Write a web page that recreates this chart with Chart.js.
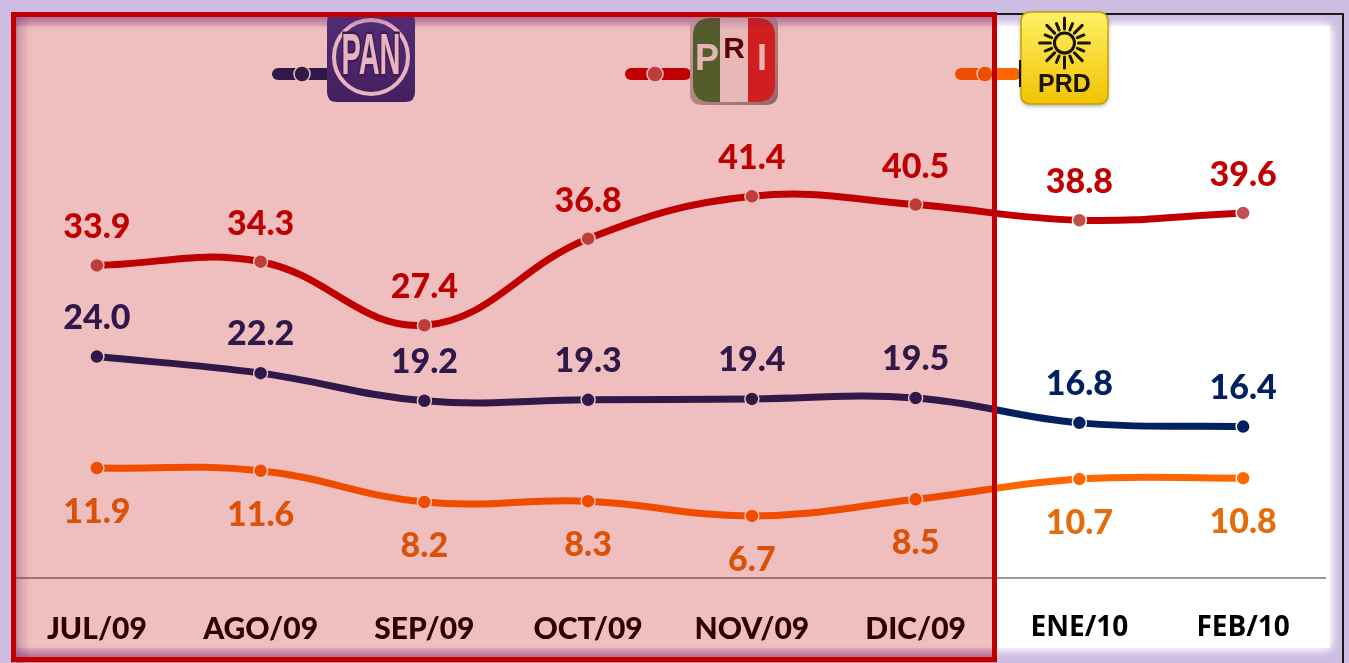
<!DOCTYPE html>
<html><head><meta charset="utf-8">
<script src="https://cdn.jsdelivr.net/npm/chart.js@4.4.1/dist/chart.umd.min.js"></script>
<style>html,body{margin:0;padding:0;background:#fff;overflow:hidden}canvas{display:block}</style>
</head><body><canvas id="c" width="1349" height="663"></canvas>
<script>
const categories = ['JUL/09','AGO/09','SEP/09','OCT/09','NOV/09','DIC/09','ENE/10','FEB/10'];
const panValues = [24.0,22.2,19.2,19.3,19.4,19.5,16.8,16.4];
const priValues = [33.9,34.3,27.4,36.8,41.4,40.5,38.8,39.6];
const prdValues = [11.9,11.6,8.2,8.3,6.7,8.5,10.7,10.8];
const seriesNames = ['PAN','PRI','PRD'];

function rr(ctx,x,y,w,h,r){ctx.beginPath();ctx.moveTo(x+r,y);ctx.lineTo(x+w-r,y);ctx.quadraticCurveTo(x+w,y,x+w,y+r);ctx.lineTo(x+w,y+h-r);ctx.quadraticCurveTo(x+w,y+h,x+w-r,y+h);ctx.lineTo(x+r,y+h);ctx.quadraticCurveTo(x,y+h,x,y+h-r);ctx.lineTo(x,y+r);ctx.quadraticCurveTo(x,y,x+r,y);ctx.closePath();}

function drawPAN(ctx,x,y,w,h){
  ctx.save();
  const g=ctx.createLinearGradient(x,y,x,y+h);g.addColorStop(0,'#2c3fa0');g.addColorStop(1,'#1c2a80');
  rr(ctx,x,y,w,h,10);ctx.fillStyle=g;ctx.fill();
  const cx=x+w/2, cy=y+h/2;
  ctx.beginPath();ctx.arc(cx,cy,37,0,Math.PI*2);ctx.strokeStyle='#f4f0ff';ctx.lineWidth=4;ctx.stroke();
  ctx.translate(cx,cy+1);ctx.scale(0.5,1);
  ctx.font='bold 58px "Liberation Sans"';ctx.textAlign='center';ctx.textBaseline='middle';
  ctx.lineWidth=5;ctx.strokeStyle='#1a2470';ctx.strokeText('PAN',0,0);
  ctx.fillStyle='#f4f0ff';ctx.fillText('PAN',0,0);
  ctx.restore();
}
function drawPRI(ctx,x,y,w,h){
  ctx.save();
  const g=ctx.createLinearGradient(x,y,x+w,y+h);g.addColorStop(0,'#d8d8d8');g.addColorStop(1,'#8a8a8a');
  rr(ctx,x,y,w,h,12);ctx.fillStyle=g;ctx.fill();
  rr(ctx,x+3,y+3,w-6,h-6,18);ctx.clip();
  ctx.fillStyle='#2f7d3a';ctx.fillRect(x,y,30,h);
  ctx.fillStyle='#f6f6f6';ctx.fillRect(x+30,y,28,h);
  ctx.fillStyle='#d42a2a';ctx.fillRect(x+58,y,w-58,h);
  ctx.textAlign='center';ctx.textBaseline='middle';
  ctx.font='bold 36px "Liberation Sans"';
  ctx.fillStyle='#f4f0f0';ctx.fillText('P',x+17,y+45);
  ctx.fillStyle='#3a0505';ctx.font='bold 30px "Liberation Sans"';ctx.fillText('R',x+44,y+35);
  ctx.fillStyle='#f4f0f0';ctx.font='bold 36px "Liberation Sans"';ctx.fillText('I',x+72,y+45);
  ctx.restore();
}
function drawPRD(ctx,x,y,w,h){
  ctx.save();
  const g=ctx.createLinearGradient(x,y,x,y+h);g.addColorStop(0,'#fff066');g.addColorStop(1,'#f0c400');
  ctx.shadowColor='rgba(0,0,0,0.35)';ctx.shadowBlur=4;ctx.shadowOffsetY=2;
  rr(ctx,x,y,w,h,10);ctx.fillStyle=g;ctx.fill();
  ctx.shadowColor='transparent';
  ctx.strokeStyle='#c9a000';ctx.lineWidth=1.5;ctx.stroke();
  const cx=x+w/2, cy=y+31;
  ctx.strokeStyle='#1a1400';ctx.lineWidth=3;
  ctx.beginPath();ctx.arc(cx,cy,10,0,Math.PI*2);ctx.stroke();
  for(let k=0;k<16;k++){const a=k*Math.PI/8;ctx.beginPath();ctx.moveTo(cx+Math.cos(a)*14,cy+Math.sin(a)*14);ctx.lineTo(cx+Math.cos(a)*(k%2?21:25),cy+Math.sin(a)*(k%2?21:25));ctx.stroke();}
  ctx.fillStyle='#1a1400';ctx.font='bold 25px "Liberation Sans"';ctx.textAlign='center';ctx.textBaseline='middle';
  ctx.fillText('PRD',cx,y+73);
  ctx.restore();
}

const framePlugin={id:'frame',
  beforeDraw(chart){
    const ctx=chart.ctx,W=chart.width,H=chart.height;
    ctx.save();
    ctx.fillStyle='#cdbde3';ctx.fillRect(0,0,W,H);
    ctx.shadowColor='#ffffff';ctx.shadowBlur=10;ctx.fillStyle='#ffffff';
    ctx.fillRect(18,26,1312,622);ctx.fillRect(18,26,1312,622);
    ctx.restore();
    ctx.save();ctx.strokeStyle='#1a1a1a';ctx.lineWidth=2;
    ctx.beginPath();ctx.moveTo(990,14);ctx.lineTo(1343,14);ctx.lineTo(1343,663);ctx.stroke();
    ctx.restore();
  },
  afterDatasetsDraw(chart){
    const ctx=chart.ctx;
    ctx.save();
    ctx.font='900 34px Lato';ctx.textAlign='center';ctx.textBaseline='middle';
    chart.data.datasets.forEach((ds,i)=>{
      const meta=chart.getDatasetMeta(i);
      meta.data.forEach((pt,j)=>{
        ctx.fillStyle=ds.labelColor;
        ctx.fillText(ds.data[j].toFixed(1),pt.x,pt.y+ds.labelOffset);
      });
    });
    // legend
    const legendX=[272,625,955];
    chart.data.datasets.forEach((ds,i)=>{
      const x0=legendX[i],y0=74;
      ctx.strokeStyle=ds.borderColor;ctx.lineWidth=12;ctx.lineCap='round';
      ctx.beginPath();ctx.moveTo(x0+6,y0);ctx.lineTo(x0+60,y0);ctx.stroke();
      ctx.beginPath();ctx.arc(x0+30,y0,8,0,Math.PI*2);ctx.fillStyle=ds.pointBackgroundColor;ctx.fill();
      ctx.lineWidth=1.5;ctx.strokeStyle='#fff';ctx.stroke();
    });
    drawPAN(ctx,327,12,88,90);
    drawPRI(ctx,690,15,88,90);
    drawPRD(ctx,1021,12,87,92);
    ctx.fillStyle='#111';ctx.fillRect(1019,60,2,27);
    ctx.restore();
  },
  afterDraw(chart){
    const ctx=chart.ctx;
    const x0=11,y0=12,x1=997,y1=663;
    ctx.save();
    ctx.fillStyle='rgba(192,0,0,0.25)';ctx.fillRect(x0,y0,x1-x0,y1-y0);
    let g=ctx.createLinearGradient(16,0,30,0);g.addColorStop(0,'rgba(110,30,100,0.28)');g.addColorStop(1,'rgba(110,30,100,0)');
    ctx.fillStyle=g;ctx.fillRect(16,17,14,y1-17);
    g=ctx.createLinearGradient(0,17,0,30);g.addColorStop(0,'rgba(110,30,100,0.28)');g.addColorStop(1,'rgba(110,30,100,0)');
    ctx.fillStyle=g;ctx.fillRect(16,17,x1-21,13);
    g=ctx.createLinearGradient(0,658,0,646);g.addColorStop(0,'rgba(110,30,100,0.28)');g.addColorStop(1,'rgba(110,30,100,0)');
    ctx.fillStyle=g;ctx.fillRect(16,646,x1-21,12);
    ctx.strokeStyle='#c00000';ctx.lineWidth=5;
    ctx.strokeRect(13.5,14.5,981,645);
    ctx.restore();
  }
};

new Chart(document.getElementById('c'),{
  type:'line',
  data:{labels:categories,datasets:[
    {label:seriesNames[0],data:panValues,borderColor:'#002060',pointBackgroundColor:'#002060',labelColor:'#002060',labelOffset:-39},
    {label:seriesNames[1],data:priValues,borderColor:'#c00000',pointBackgroundColor:'#c0504d',labelColor:'#c00000',labelOffset:-38},
    {label:seriesNames[2],data:prdValues,borderColor:'#ff6600',pointBackgroundColor:'#ff6600',labelColor:'#e46c0a',labelOffset:44}
  ].map(d=>Object.assign({borderWidth:7,tension:0.4,pointRadius:7,pointBorderColor:'#ffffff',pointBorderWidth:1.5,pointHoverRadius:7},d))},
  options:{
    responsive:false,animation:false,devicePixelRatio:1,
    layout:{padding:{left:15,right:24,top:25,bottom:0}},
    plugins:{legend:{display:false},tooltip:{enabled:false}},
    scales:{
      y:{display:false,min:0,max:60},
      x:{offset:true,grid:{display:false,drawTicks:false,tickLength:0},
        border:{display:true,color:'#9a9a9a',width:2},
        afterFit:(s)=>{s.height=85.4;},
        ticks:{color:'#000',padding:34,maxRotation:0,autoSkip:false,
          font:(c)=>({family:c.index>=6?'"Open Sans"':'Lato',weight:c.index>=6?'bold':'900',size:c.index>=6?28:30})}}
    }
  },
  plugins:[framePlugin]
});
</script></body></html>
